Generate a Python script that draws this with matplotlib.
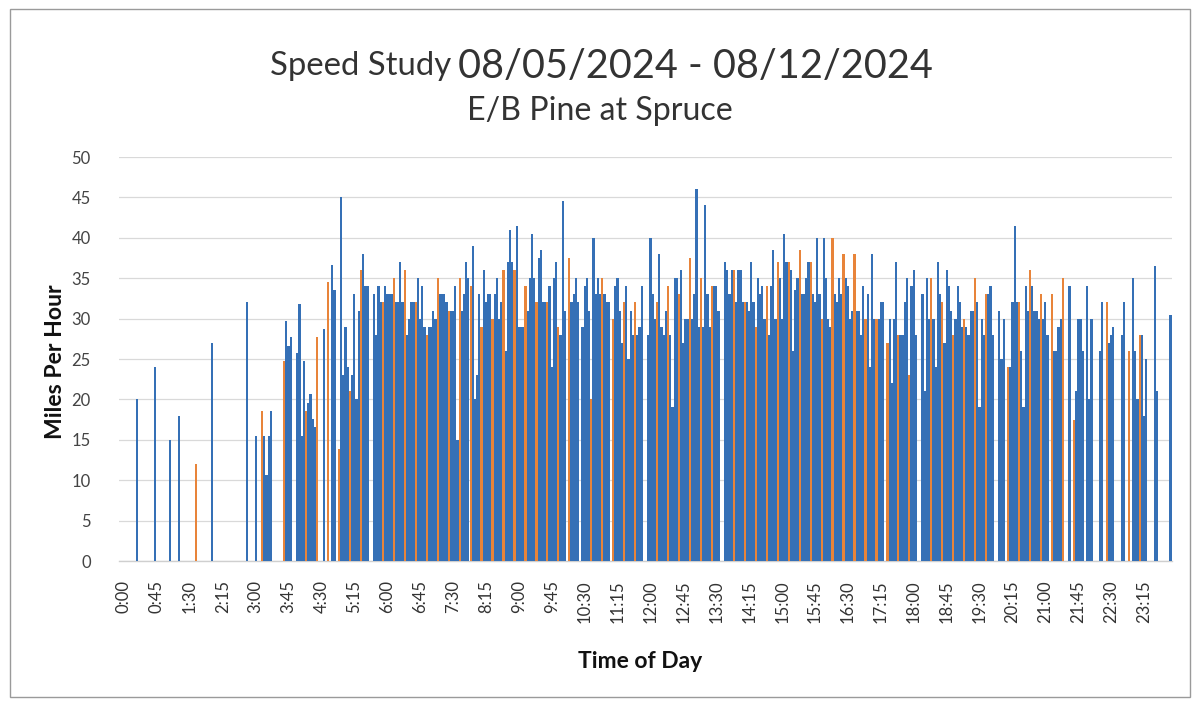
import matplotlib
matplotlib.use("Agg")
import matplotlib.pyplot as plt
from matplotlib.patches import Rectangle
import numpy as np

# ---------------- data ----------------
# 96 quarter-hour categories, 0:00 ... 23:45
categories = [f"{h}:{m:02d}" for h in range(24) for m in (0, 15, 30, 45)]
tick_labels = ["0:00", "0:45", "1:30", "2:15", "3:00", "3:45", "4:30", "5:15",
               "6:00", "6:45", "7:30", "8:15", "9:00", "9:45", "10:30", "11:15",
               "12:00", "12:45", "13:30", "14:15", "15:00", "15:45", "16:30", "17:15",
               "18:00", "18:45", "19:30", "20:15", "21:00", "21:45", "22:30", "23:15"]

series_orange = [0, 0, 0, 0, 0, 0, 0, 12, 0, 0, 0, 0, 0, 18.6, 0, 24.8,
                 0, 18.6, 27.7, 34.5, 13.8, 21, 36, 0, 32, 35, 36, 32, 28, 35, 31, 35,
                 34, 29, 30, 36, 36, 34, 32, 32, 29, 37.5, 0, 20, 35, 30, 32, 32,
                 0, 32, 34, 33, 37.5, 35, 34, 0, 36, 32, 29, 34, 37, 37, 38.5, 37,
                 30, 40, 38, 38, 30, 30, 27, 28, 23, 0, 35, 32, 28, 30, 35, 33,
                 0, 24, 32, 36, 33, 33, 35, 17.5, 0, 0, 32, 0, 26, 28, 0, 0]

series_blue_1 = [0, 0, 0, 24, 0, 0, 0, 0, 0, 0, 0, 0, 0, 15.5, 0, 29.7,
                 25.8, 19.5, 0, 0, 45, 23, 38, 33, 34, 32, 28, 35, 29, 33, 31, 31,
                 39, 36, 33, 26, 41.5, 31, 37.5, 34, 28, 32, 29, 40, 33, 34, 34, 28,
                 28, 38, 28, 36, 30, 29, 34, 37, 32, 32, 35, 28, 35, 36, 33, 33,
                 40, 33, 35, 31, 33, 30, 30, 28, 34, 33, 30, 27, 30, 29, 32, 33,
                 31, 24, 26, 34, 30, 26, 0, 21, 34, 0, 27, 0, 0, 28, 0, 0]

series_blue_2 = [0, 0, 0, 0, 0, 18, 0, 0, 27, 0, 0, 0, 15.5, 10.7, 0, 26.6,
                 31.8, 20.7, 0, 36.6, 23, 33, 34, 28, 33, 32, 30, 30, 29, 33, 31, 33,
                 20, 32, 35, 37, 29, 35, 38.5, 24, 44.5, 33, 34, 33, 32, 35, 25, 29,
                 40, 29, 19, 27, 33, 44, 34, 36, 36, 31, 33, 34, 30, 26, 33, 32,
                 35, 32, 34, 31, 24, 32, 22, 28, 36, 21, 24, 36, 34, 28, 19, 34,
                 25, 32, 19, 31, 32, 26, 0, 30, 20, 26, 28, 28, 35, 18, 36.5, 0]

series_blue_3 = [0, 20, 0, 0, 15, 0, 0, 0, 0, 0, 0, 32, 0, 15.5, 0, 27.7,
                 15.5, 17.6, 28.7, 33.6, 29, 20, 34, 34, 33, 37, 32, 34, 31, 33, 34, 37,
                 23, 33, 30, 41, 29, 40.5, 32, 35, 31, 35, 35, 35, 32, 31, 31, 34,
                 33, 28, 35, 30, 46, 33, 31, 33, 36, 37, 34, 38.5, 40.5, 33.5, 35, 40,
                 30, 35, 30, 28, 38, 32, 30, 32, 28, 35, 37, 34, 32, 31, 30, 28,
                 30, 41.5, 34, 31, 28, 29, 34, 30, 30, 32, 29, 32, 26, 25, 21, 0]

series_blue_4 = [0, 0, 0, 0, 0, 0, 0, 0, 0, 0, 0, 0, 0, 18.6, 0, 0,
                 24.7, 16.6, 0, 0, 24, 31, 0, 32, 33, 32, 32, 29, 30, 32, 15, 35,
                 33, 33, 32, 37, 29, 35, 32, 37, 0, 32, 31, 33, 0, 27, 28, 0,
                 30, 31, 35, 30, 29, 29, 0, 36, 32, 32, 30, 30, 37, 35, 37, 33,
                 29, 33, 31, 34, 30, 0, 37, 35, 0, 30, 33, 31, 29, 31, 28, 0,
                 0, 32, 31, 30, 0, 30, 0, 26, 0, 0, 0, 0, 20, 0, 0, 30.5]

# ---------------- styling ----------------
W, H = 1197, 710
BLUE = "#3570b6"
ORANGE = "#e8843a"
FONT = ["Lato", "DejaVu Sans"]
plt.rcParams["font.family"] = FONT

fig = plt.figure(figsize=(W / 100, H / 100), dpi=100)
fig.patch.set_facecolor("white")

left, right = 118.5, 1171.5
bottom, top = 561, 157
ax = fig.add_axes([left / W, 1 - bottom / H, (right - left) / W, (bottom - top) / H])

x = np.arange(len(categories))
bw = 0.2
series = [(series_orange, ORANGE, -0.4),
          (series_blue_1, BLUE, -0.2),
          (series_blue_2, BLUE, 0.0),
          (series_blue_3, BLUE, 0.2),
          (series_blue_4, BLUE, 0.4)]
for vals, col, off in series:
    ax.bar(x + off, vals, width=bw, color=col, linewidth=0, zorder=3)

ax.set_xlim(-0.5, len(categories) - 0.5)
ax.set_ylim(0, 50)
ax.set_yticks(np.arange(0, 51, 5))
ax.yaxis.grid(True, color="#d9d9d9", linewidth=0.9, zorder=0)
ax.set_axisbelow(True)
for s in ("left", "right", "top"):
    ax.spines[s].set_visible(False)
ax.spines["bottom"].set_color("#cfcfcf")
ax.spines["bottom"].set_linewidth(1.0)
ax.tick_params(axis="y", length=0, pad=20, labelsize=12, labelcolor="#444444")

tick_pos = [categories.index(t) for t in tick_labels]
ax.set_xticks(tick_pos)
ax.set_xticklabels(tick_labels, rotation=90, fontsize=12, color="#333333")
ax.tick_params(axis="x", length=0, pad=14)

# ---------------- texts ----------------
fig.canvas.draw()
renderer = fig.canvas.get_renderer()


def fig_text(px, py, s, target, dim="w", **kw):
    t = fig.text(px / W, 1 - py / H, s, **kw)
    ext = t.get_window_extent(renderer)
    cur = ext.width if dim == "w" else ext.height
    t.set_fontsize(t.get_fontsize() * target / cur)
    return t


fig_text(451, 75, "Speed Study", 181, ha="right", va="baseline",
         fontsize=24, color="#333333")
fig_text(458, 78, "08/05/2024 - 08/12/2024", 474, ha="left", va="baseline",
         fontsize=30, color="#333333")
fig_text(600, 120, "E/B Pine at Spruce", 266, ha="center", va="baseline",
         fontsize=20, color="#333333")
fig_text(56, 362, "Miles Per Hour", 155, dim="h", ha="center", va="center",
         rotation=90, fontsize=14, fontweight="bold", color="#111111")
fig_text(640, 661, "Time of Day", 125, ha="center", va="center",
         fontsize=14, fontweight="bold", color="#111111")

# chart border
fig.patches.append(Rectangle((10 / W, 1 - 697 / H), 1180 / W, 688 / H,
                             transform=fig.transFigure, fill=False,
                             edgecolor="#9a9a9a", linewidth=1.0))

fig.savefig("out.png", dpi=100, facecolor="white")
